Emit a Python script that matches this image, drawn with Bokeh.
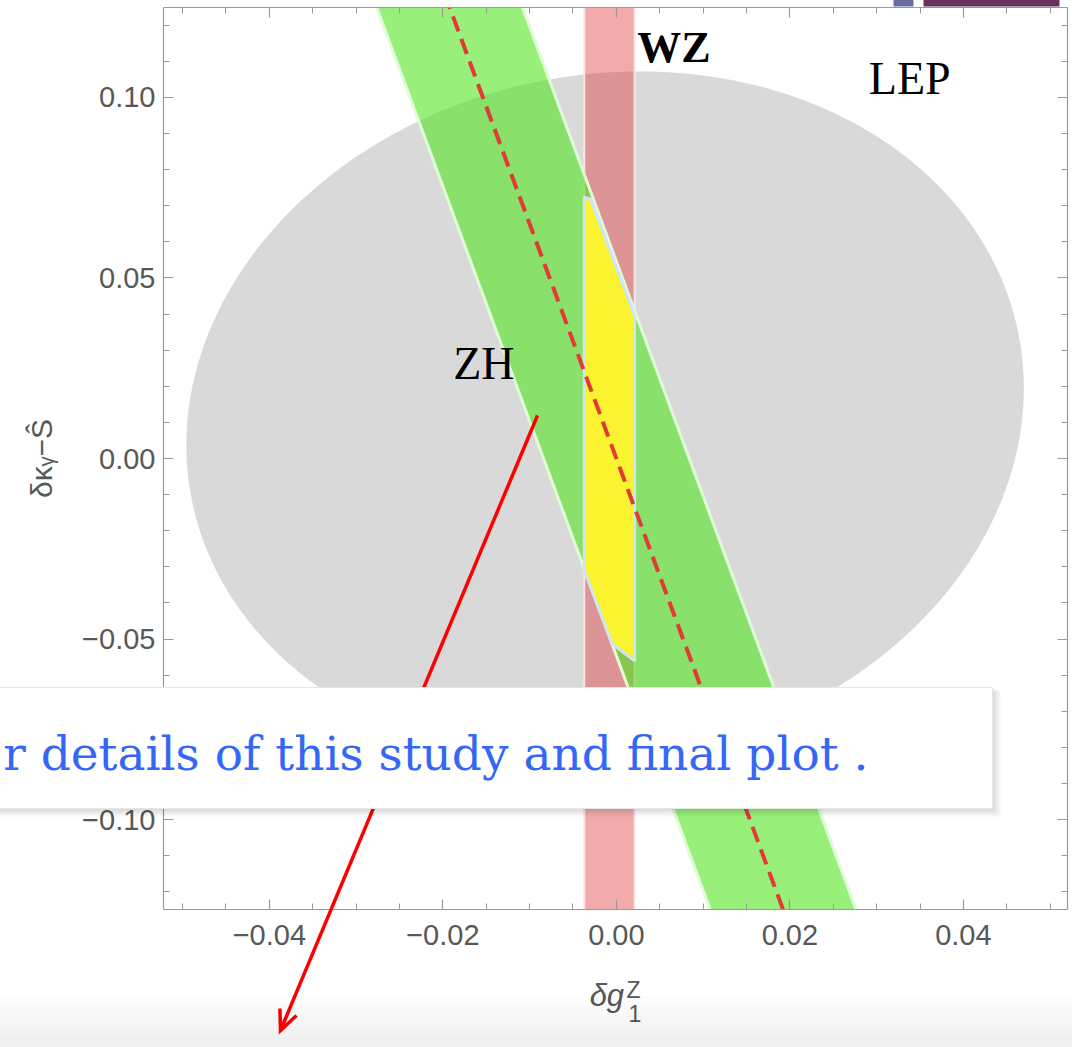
import numpy as np
from bokeh.plotting import figure
from bokeh.models import Range1d, FixedTicker, CustomJSTickFormatter, LinearAxis, Label
from bokeh.core.properties import value
from bokeh.embed import file_html
from bokeh.resources import INLINE

# ---------------- data ----------------
x_limits = (-0.0522, 0.0520)
y_limits = (-0.1249, 0.1249)

x_major_ticks = [-0.04, -0.02, 0.0, 0.02, 0.04]
x_minor_ticks = [-0.05, -0.045, -0.04, -0.035, -0.03, -0.025, -0.02, -0.015, -0.01, -0.005,
                 0.0, 0.005, 0.01, 0.015, 0.02, 0.025, 0.03, 0.035, 0.04, 0.045, 0.05]
y_major_ticks = [-0.10, -0.05, 0.0, 0.05, 0.10]
y_minor_ticks = [-0.12, -0.11, -0.10, -0.09, -0.08, -0.07, -0.06, -0.05, -0.04, -0.03, -0.02, -0.01,
                 0.0, 0.01, 0.02, 0.03, 0.04, 0.05, 0.06, 0.07, 0.08, 0.09, 0.10, 0.11, 0.12]

# LEP ellipse (centre, semi-axes, tilt dx/dy)
lep_center_x = -0.0013
lep_center_y = 0.0116
lep_semi_x = 0.0481
lep_semi_y = 0.0956
lep_tilt = 0.0416

# ZH band: central line dk = slope * dg1, half width in dg1
zh_slope = -6.5
zh_half_width = 0.0084

# WZ band in dg1
wz_low = -0.0037
wz_high = 0.0021

# combined region (yellow)
comb_x = [-0.0037, -0.0030, 0.0021, 0.0021, -0.0005, -0.0037]
comb_y = [0.0724, 0.0719, 0.0396, -0.0560, -0.0513, -0.0310]

# region labels
region_text = ["WZ", "LEP", "ZH"]
region_x = [0.0024, 0.0291, -0.0188]
region_y = [0.1138, 0.1053, 0.0263]

overlay_text = "r details of this study and final plot ."

# ---------------- layout helpers (page pixels -> data) ----------------
W, H = 1072, 1047
FRAME_L, FRAME_R, FRAME_T, FRAME_B = 163, 1067, 7, 909

def px2x(px):
    return x_limits[0] + (np.asarray(px, dtype=float) - FRAME_L) / (FRAME_R - FRAME_L) * (x_limits[1] - x_limits[0])

def py2y(py):
    return y_limits[1] - (np.asarray(py, dtype=float) - FRAME_T) / (FRAME_B - FRAME_T) * (y_limits[1] - y_limits[0])

AXIS_GRAY = "#9a9a9a"
LABEL_GRAY = "#585858"

p = figure(width=W, height=H, x_range=Range1d(*x_limits), y_range=Range1d(*y_limits),
           output_backend="svg", toolbar_location=None,
           min_border_left=FRAME_L, min_border_right=W - FRAME_R,
           min_border_top=FRAME_T, min_border_bottom=H - FRAME_B,
           background_fill_color="white", border_fill_color="white")
p.outline_line_color = None
p.xgrid.visible = False
p.ygrid.visible = False

label_fmt = CustomJSTickFormatter(code="return (tick < -1e-9 ? '\\u2212' : '') + Math.abs(tick).toFixed(2);")
blank_fmt = CustomJSTickFormatter(code="return '';")

def style_axis(ax, ticks, minor, show_labels):
    ax.ticker = FixedTicker(ticks=ticks, minor_ticks=minor)
    ax.axis_line_color = AXIS_GRAY
    ax.axis_line_width = 1.2
    ax.major_tick_line_color = AXIS_GRAY
    ax.minor_tick_line_color = AXIS_GRAY
    ax.major_tick_line_width = 1.2
    ax.minor_tick_line_width = 1.0
    ax.major_tick_in = 10
    ax.major_tick_out = 0
    ax.minor_tick_in = 6
    ax.minor_tick_out = 0
    if show_labels:
        ax.formatter = label_fmt
        ax.major_label_text_font = "Liberation Sans"
        ax.major_label_text_font_size = "29px"
        ax.major_label_text_color = LABEL_GRAY
    else:
        ax.formatter = blank_fmt
        ax.major_label_text_font_size = "0px"
        ax.major_label_standoff = 0

xb = p.below[0]
yl = p.left[0]
style_axis(xb, x_major_ticks, x_minor_ticks, True)
style_axis(yl, y_major_ticks, y_minor_ticks, True)
xb.major_label_standoff = 15
yl.major_label_standoff = 8

xb.axis_label = "δg\u00a0\u00a0"
xb.axis_label_text_font = "Liberation Sans"
xb.axis_label_text_font_style = "italic"
xb.axis_label_text_font_size = "31px"
xb.axis_label_text_color = LABEL_GRAY
xb.axis_label_standoff = 30

yl.axis_label = "δκᵧ−Ŝ"
yl.axis_label_text_font = "Liberation Sans"
yl.axis_label_text_font_style = "normal"
yl.axis_label_text_font_size = "30px"
yl.axis_label_text_color = LABEL_GRAY
yl.axis_label_standoff = 21

xt = LinearAxis()
style_axis(xt, x_major_ticks, x_minor_ticks, False)
p.add_layout(xt, "above")
yr = LinearAxis()
style_axis(yr, y_major_ticks, y_minor_ticks, False)
p.add_layout(yr, "right")

# ---------------- LEP ellipse ----------------
t = np.linspace(0, 2 * np.pi, 361)
ell_y = lep_center_y + lep_semi_y * np.sin(t)
ell_x = lep_center_x + lep_tilt * (ell_y - lep_center_y) + lep_semi_x * np.cos(t)
p.patch(ell_x, ell_y, fill_color="#d9d9d9", line_color=None)

# ---------------- WZ band ----------------
span_y = np.array([y_limits[1] + 0.01, y_limits[0] - 0.01])
p.quad(left=[wz_low], right=[wz_high], bottom=[span_y[1]], top=[span_y[0]],
       fill_color="#e03434", fill_alpha=0.42, line_color=None)
for xe in (wz_low, wz_high):
    p.line([xe, xe], span_y, line_color="#fbe4e4", line_width=2)

# ---------------- ZH band ----------------
zh_mid = span_y / zh_slope
zh_left = zh_mid - zh_half_width
zh_right = zh_mid + zh_half_width
p.patch(np.r_[zh_left, zh_right[::-1]], np.r_[span_y, span_y[::-1]],
        fill_color="#53e621", fill_alpha=0.6, line_color=None)
p.line(zh_left, span_y, line_color="#e0fbd8", line_width=3)
p.line(zh_right, span_y, line_color="#e0fbd8", line_width=3)

# ---------------- combined region ----------------
p.patch(comb_x, comb_y, fill_color="#fcf330", line_color="#cfe5f5", line_width=3)

# ---------------- ZH central line ----------------
p.line(zh_mid, span_y, line_color="#e23b37", line_width=4, line_dash="16 8")

# ---------------- region labels ----------------
for txt, lx, ly in zip(region_text, region_x, region_y):
    p.add_layout(Label(x=lx, y=ly, text=txt, text_font="Liberation Serif",
                       text_font_size="44px" if txt == "WZ" else "46px",
                       text_font_style="bold" if txt == "WZ" else "normal",
                       text_color="black", text_baseline="alphabetic", text_align="left"))

# ---------------- slide overlay (drawn outside the frame) ----------------
OV = dict(level="overlay")

# x-axis label super/subscript
p.text(x=px2x([626]), y=py2y([989]), text=["Z"], text_font=value("Liberation Sans"),
       text_font_size=value("23px"), text_color=LABEL_GRAY, text_baseline="alphabetic", **OV)
p.text(x=px2x([628]), y=py2y([1013]), text=["1"], text_font=value("Liberation Sans"),
       text_font_size=value("23px"), text_color=LABEL_GRAY, text_baseline="alphabetic", **OV)

# red arrow
arrow_px = np.array([[537.0, 415.0], [280.0, 1030.0]])
u = arrow_px[1] - arrow_px[0]
u = u / np.hypot(*u)
perp = np.array([u[1], -u[0]])
wing_a = arrow_px[1] - 20 * u + 9 * perp
wing_b = arrow_px[1] - 20 * u - 9 * perp
p.line(px2x(arrow_px[:, 0]), py2y(arrow_px[:, 1]), line_color="#ff0000", line_width=3.5, **OV)
head = np.array([wing_a, arrow_px[1], wing_b])
p.line(px2x(head[:, 0]), py2y(head[:, 1]), line_color="#ff0000", line_width=3.5,
       line_join="miter", **OV)

# note box with soft shadow
for k in range(4):
    d = 2 * (k + 1)
    p.quad(left=px2x([-20]), right=px2x([992 + d]), top=py2y([687 + d / 2]), bottom=py2y([808 + d]),
           fill_color="black", fill_alpha=0.035, line_color=None, **OV)
p.quad(left=px2x([-20]), right=px2x([992]), top=py2y([687]), bottom=py2y([808]),
       fill_color="white", line_color="#e6e6e6", line_width=1, **OV)
p.text(x=px2x([868]), y=py2y([753]), text=[overlay_text], text_font=value("DejaVu Serif"),
       text_font_size=value("47px"), text_color="#3467f6", text_align="right",
       text_baseline="alphabetic", **OV)

# bottom slide shading (soft gradient)
for top_px in (995, 1005, 1015, 1025, 1035):
    p.quad(left=px2x([-20]), right=px2x([1100]), top=py2y([top_px]), bottom=py2y([1100]),
           fill_color="black", fill_alpha=0.01, line_color=None, **OV)

# slide header bars at the top edge
p.quad(left=px2x([893, 923]), right=px2x([913, 1059]), top=py2y([-5, -5]), bottom=py2y([6, 6]),
       fill_color=["#686f9e", "#69315f"], line_color=None, **OV)

open("out.html", "w").write(file_html(p, INLINE))
